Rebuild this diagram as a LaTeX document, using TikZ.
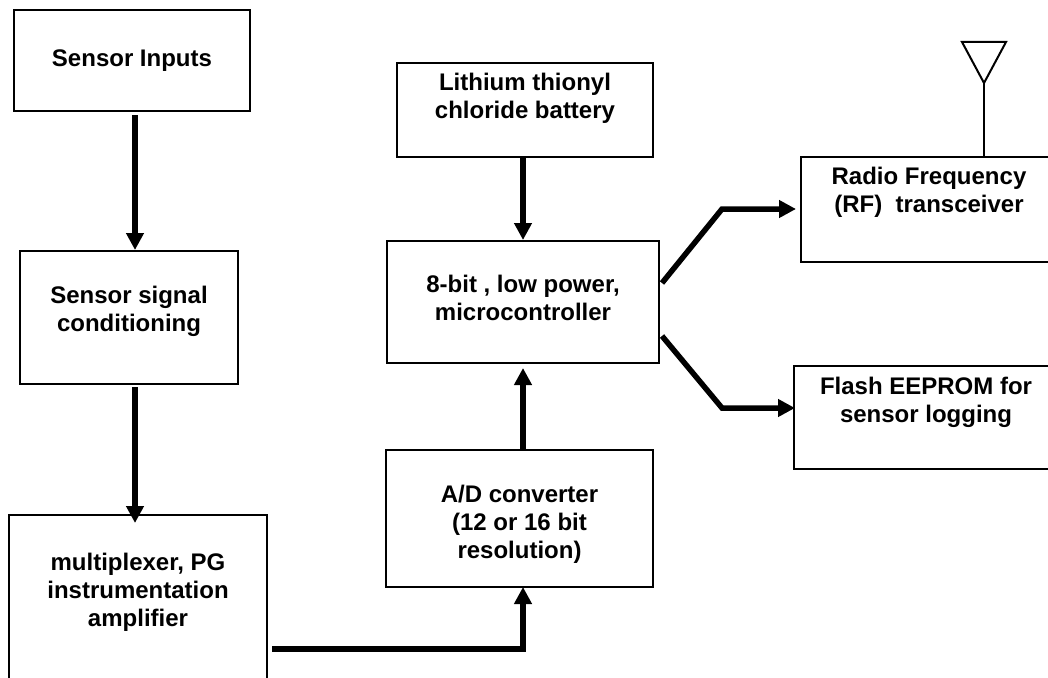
\documentclass[tikz,border=0pt]{standalone}
\usepackage{fontspec}
\setmainfont{Liberation Sans}
\usetikzlibrary{arrows.meta}
\tikzset{
  lbl/.style={font=\fontsize{24}{28}\selectfont\bfseries,align=center,inner sep=0pt},
  box/.style={lbl,draw=black,line width=2pt,fill=white,minimum width=#1},
  flow/.style={draw=black,line width=5.5pt,line join=miter,-{Triangle[width=17pt,length=17pt]}},
  thin line/.style={draw=black,line width=2pt}
}
\newcommand{\pad}[1]{\\[#1pt]\mbox{}}
\newcommand{\padtop}[1]{\mbox{}\\[#1pt]}
\begin{document}
\begin{tikzpicture}[x=1pt,y=-1pt]
\clip (0,0) rectangle (1048,677);
\fill[white] (0,0) rectangle (1048,677);
\node[box=236pt,minimum height=101pt] (inp) at (132,60.5) {Sensor Inputs};
\node[box=218pt,minimum height=133pt] (cond) at (129,317.5) {Sensor signal\\conditioning\pad{-10}};
\node[box=258pt,minimum height=175pt] (mux) at (138,602.5) {multiplexer, PG\\instrumentation\\amplifier\pad{-2}};
\node[box=256pt,minimum height=94pt] (bat) at (525,110) {Lithium thionyl\\chloride battery\pad{0.4}};
\node[box=272pt,minimum height=122pt] (mcu) at (523,302) {8-bit , low power,\\microcontroller\pad{-20}};
\node[box=267pt,minimum height=137pt] (adc) at (519.5,518.5) {\padtop{0}A/D converter\\(12 or 16 bit\\resolution)};
\node[box=289pt,minimum height=105pt] (rf) at (945.5,209.5) {};
\node[lbl] (rft) at (929,192.5) {Radio Frequency\\(RF)\ \ transceiver};
\node[box=296pt,minimum height=103pt] (fl) at (941.7,417.5) {};
\node[lbl] (flt) at (926,402) {Flash EEPROM for\\sensor logging};
% connectors
\draw[flow] ([shift={(3,3)}]inp.south) -- ([shift={(6,0)}]cond.north);
\draw[flow] ([shift={(6,2)}]cond.south) -- ([shift={(-3,9)}]mux.north);
\draw[flow] ([shift={(-2,-1)}]bat.south) -- ([shift={(0,0)}]mcu.north);
\draw[flow] ([shift={(3.5,1)}]adc.north) -- ([shift={(0,4)}]mcu.south);
\draw[flow] ([shift={(4,46.5)}]mux.east) -| ([shift={(3.5,-1)}]adc.south);
\coordinate (rfb) at (722,209);
\coordinate (flb) at (722,408);
\draw[flow] ([shift={(2,-19)}]mcu.east) -- (rfb) -- ([shift={(-4,-.5)}]rf.west);
\draw[flow] ([shift={(2,34)}]mcu.east) -- (flb) -- ([shift={(2.3,-9.5)}]fl.west);
% antenna
\coordinate (ant) at (984,83);
\draw[thin line,line join=miter] (962,42) -- (1006,42) -- (ant) -- cycle;
\draw[thin line] (ant) -- (ant |- rf.north);
\end{tikzpicture}
\end{document}
